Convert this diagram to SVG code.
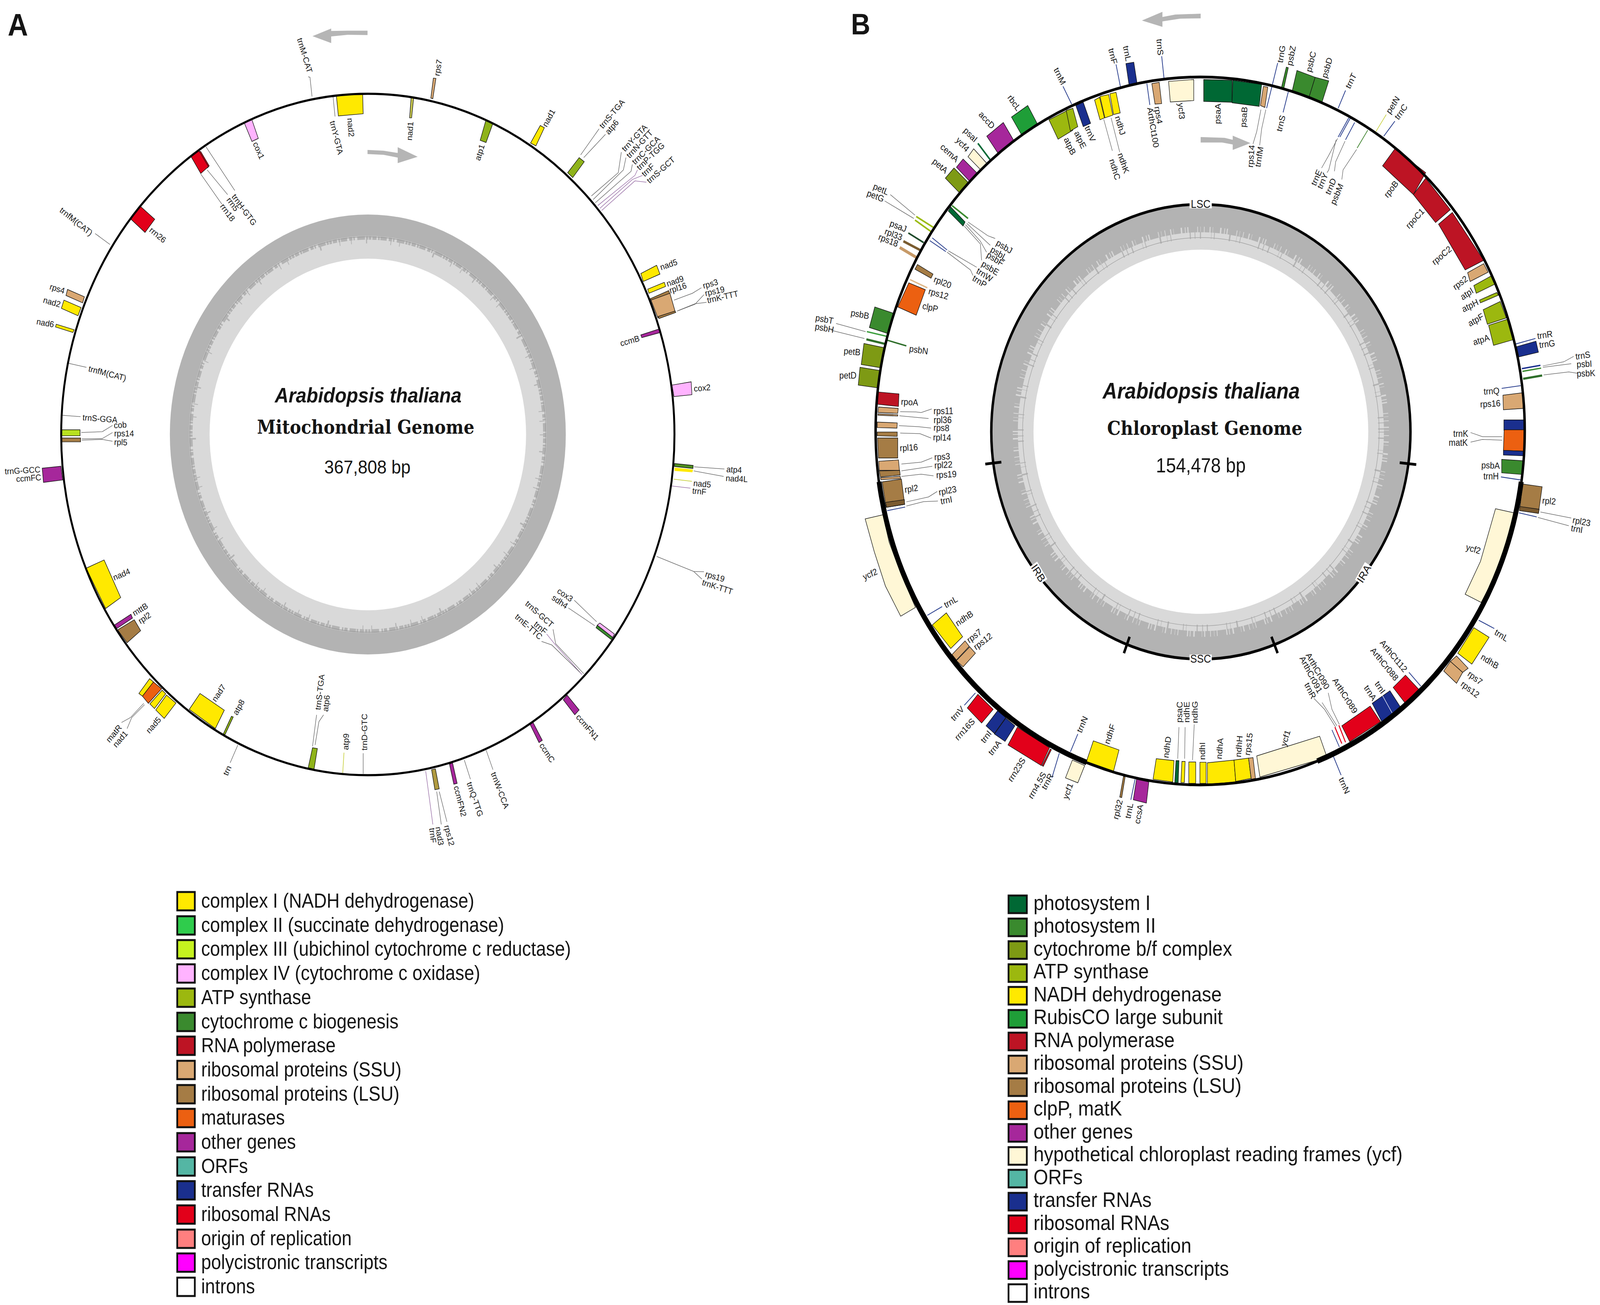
<svg xmlns="http://www.w3.org/2000/svg" width="4550" height="3340" viewBox="0 0 4550 3340" preserveAspectRatio="none">
<style>
svg{display:block;width:100vw;height:100vh}
text{font-family:"Liberation Sans",Arial,sans-serif;fill:#151515;text-anchor:middle;dominant-baseline:central}
.a text{font-size:31px}
.b text{font-size:33px}
#regions text{font-size:41px}
polygon{stroke:#111;stroke-width:2}
.c{fill:none;stroke:#555;stroke-width:1.8}
.cb{fill:none;stroke:#2a3f8e;stroke-width:3}
.cp{fill:none;stroke:#8a5a9a;stroke-width:1.8}
.cy{fill:none;stroke:#c8d040;stroke-width:2.5}
.cg{fill:none;stroke:#4a8a3a;stroke-width:3}
.y{fill:#ffe900}.pk{fill:#ffb3ff}.at{fill:#8fb31a}.tan{fill:#d9a873}.br{fill:#a57c45}.red{fill:#e2001a}.pu{fill:#a6279b}.or{fill:#ec6011}.tr{fill:#1a2f8e}.pol{fill:#bd1424}.ps1{fill:#006834}.ps2{fill:#3a8a2e}.bf{fill:#7e9a14}.ru{fill:#1f9e38}.yc{fill:#fff7d6}.gy{fill:#b8e01f}.aq{fill:#54b6a4}.lr{fill:#ff7f7f}.mg{fill:#f0f}.wh{fill:#fff}.lm{fill:#c5f21f}.sd{fill:#2fcc4c}.aa{fill:#9cb80f}
.ln{fill:none;stroke-width:6}
.sw{stroke:#111;stroke-width:5}
.lg text{text-anchor:start;dominant-baseline:auto}
.panel{font-family:"Liberation Sans",Arial,sans-serif;font-weight:700;text-anchor:start;dominant-baseline:auto}
.sp{font-family:"Liberation Sans",Arial,sans-serif;font-weight:700;font-style:italic;dominant-baseline:auto}
.ti{font-family:"DejaVu Serif",serif;font-weight:700;dominant-baseline:auto}
.bp{dominant-baseline:auto}
.arr{fill:#b5b5b5;stroke:none}
</style>
<rect width="4550" height="3340" fill="#fff"/>

<g id="rings">
<circle cx="1046" cy="1112" r="563" fill="#b3b3b3"/>
<circle cx="1046" cy="1112" r="508" fill="#d9d9d9"/>
<circle cx="1046" cy="1112" r="503" fill="none" stroke="#b3b3b3" stroke-width="9" stroke-dasharray="7 3 12 4 5 2 18 6 9 3 4 7 22 3 6 2"/>
<circle cx="1046" cy="1112" r="496" fill="none" stroke="#b3b3b3" stroke-width="14" stroke-dasharray="2 41 3 67 2 23 2 97 4 53 2 31"/>
<circle cx="1046" cy="1112" r="506" fill="none" stroke="#999" stroke-width="1.5"/>
<circle cx="1046" cy="1112" r="450" fill="#fff"/>
<ellipse cx="3415" cy="1105" rx="596" ry="582" fill="#b3b3b3"/>
<ellipse cx="3415" cy="1105" rx="535" ry="525" fill="#d9d9d9"/>
<ellipse cx="3415" cy="1105" rx="528" ry="518" fill="none" stroke="#b3b3b3" stroke-width="15" stroke-dasharray="9 2 14 3 6 1 20 4 8 2 5 3 25 2 7 1"/>
<ellipse cx="3415" cy="1105" rx="513" ry="503" fill="none" stroke="#b3b3b3" stroke-width="18" stroke-dasharray="2 13 3 29 1 7 2 41 4 17 1 9 2 53 3 11"/>
<ellipse cx="3415" cy="1105" rx="507" ry="497" fill="none" stroke="#a5a5a5" stroke-width="1.5"/>
<ellipse cx="3415" cy="1105" rx="476" ry="466" fill="#fff"/>
</g>

<g id="connectors">
<g transform="scale(.7273 .7015)">
<polyline class="c" points="1205,280 1212,282 1220,352"/><polyline class="c" points="1302,350 1310,425"/>
<polyline class="c" points="785,635 860,735 868,745"/><polyline class="c" points="810,620 890,710"/><polyline class="c" points="805,535 918,695"/>
<polyline class="c" points="372,852 430,892"/><polyline class="c" points="265,1325 338,1340"/><polyline class="c" points="243,1515 315,1520"/><polyline class="c" points="318,1578 400,1575 440,1552"/>
</g>
<g transform="translate(1140 0) scale(.7273 .7015)">
<polyline class="c" points="703,565 775,470"/><polyline class="c" points="715,575 800,490"/>
<polyline class="c" points="745,715 850,630 862,555"/><polyline class="c" points="752,728 870,620 880,575"/><polyline class="c" points="760,740 900,625 905,600"/><polyline class="cp" points="770,750 915,640 925,620"/><polyline class="cp" points="778,760 905,655 945,640"/><polyline class="cp" points="785,768 915,660 960,665"/>
<polyline class="c" points="1068,1095 1140,1070 1175,1050"/><polyline class="c" points="1080,1135 1150,1110 1185,1075"/><polyline class="c" points="1085,1133 1150,1108 1195,1103"/>
</g>
<g transform="translate(0 1100) scale(.7273 .7015)">
<polyline class="c" points="320,33 400,32 440,10"/><polyline class="c" points="320,38 400,35 440,42"/>
<polyline class="c" points="475,1068 510,1050 562,998"/><polyline class="c" points="497,1090 515,1050 565,1003"/>
<polyline class="c" points="930,1150 900,1215"/>
<polyline class="c" points="1238,1040 1235,1060 1222,1155"/><polyline class="c" points="1265,1040 1247,1065 1232,1150"/>
<polyline class="cy" points="1345,1178 1340,1252"/><polyline class="c" points="1420,1180 1420,1255"/>
</g>
<g transform="translate(1140 1100) scale(.7273 .7015)">
<polyline class="c" points="1147,135 1265,143"/><polyline class="c" points="1145,150 1262,170"/><polyline class="cy" points="1067,180 1138,188"/><polyline class="cp" points="1060,205 1132,213"/>
<polyline class="c" points="1000,462 1145,517 1185,518"/><polyline class="c" points="1145,517 1177,545"/>
<polyline class="c" points="678,622 765,700"/><polyline class="c" points="655,650 758,715"/>
<polyline class="c" points="595,728 605,780 715,890"/><polyline class="cp" points="570,745 600,780 708,893"/><polyline class="c" points="550,772 590,785 700,885"/>
<polyline class="c" points="333,1168 360,1240"/><polyline class="c" points="248,1205 272,1275"/>
<polyline class="c" points="150,1320 180,1430"/><polyline class="c" points="140,1320 158,1440"/><polyline class="cp" points="97,1245 125,1440"/>
</g>
<g transform="translate(2360 0) scale(.7015)">
<polyline class="c" points="245,710 345,785"/><polyline class="c" points="222,733 340,797"/>
<polyline class="c" points="560,810 640,860 670,870"/><polyline class="c" points="555,815 620,870 650,895"/><polyline class="c" points="550,820 610,880 635,920"/><polyline class="c" points="545,825 610,890 615,950"/>
<polyline class="cb" points="415,868 475,912"/><polyline class="c" points="480,915 595,975"/><polyline class="cb" points="405,878 470,918"/><polyline class="c" points="475,920 570,985 580,1005"/>
<polyline class="cb" points="945,315 980,380"/><polyline class="cb" points="1160,235 1178,318"/><polyline class="cb" points="1345,205 1355,290"/><polyline class="cb" points="1285,305 1297,383"/>
<polyline class="c" points="1110,435 1145,550"/><polyline class="c" points="1140,430 1175,555"/>
<polyline class="c" points="25,1180 145,1210"/><polyline class="c" points="5,1205 140,1235"/>
<polyline class="c" points="285,1502 350,1503 370,1505 413,1492"/><polyline class="c" points="282,1517 400,1527"/><polyline class="c" points="280,1553 360,1557 410,1562"/>
</g>
<g transform="translate(3430 0) scale(.7015)">
<polyline class="cb" points="290,230 245,395"/><polyline class="cb" points="312,410 333,335"/><polyline class="cb" points="535,395 565,330"/>
<polyline class="c" points="222,400 205,480 190,525"/><polyline class="c" points="242,400 225,470 217,530"/>
<polyline class="cy" points="688,480 730,418"/><polyline class="cb" points="720,497 765,442"/>
<polyline class="cb" points="535,500 578,430"/><polyline class="cb" points="542,500 585,430"/><polyline class="cb" points="565,510 602,447"/><polyline class="cg" points="612,540 655,475"/>
<polyline class="c" points="533,505 495,570 468,613"/><polyline class="c" points="527,510 497,620 490,630"/><polyline class="c" points="563,515 525,590 520,625"/><polyline class="c" points="610,545 555,620 550,655"/>
<polyline class="cb" points="1255,1255 1335,1235"/><polyline class="cb" points="1198,1417 1275,1407"/>
<polyline class="c" points="1365,1335 1450,1320 1490,1300"/><polyline class="c" points="1365,1340 1480,1327"/><polyline class="c" points="1368,1368 1470,1357 1505,1362"/>
</g>
<g transform="translate(2360 1100) scale(.7015)">
<polyline class="c" points="285,12 365,14 410,30"/><polyline class="c" points="290,125 370,118 415,102"/><polyline class="c" points="290,150 415,133"/><polyline class="c" points="290,170 370,162 420,168"/>
<polyline class="c" points="310,263 400,245 435,225"/><polyline class="cb" points="232,295 305,282"/><polyline class="c" points="310,278 380,262 438,260"/>
<polyline class="cb" points="395,677 455,645"/><polyline class="cb" points="545,1005 590,960"/><polyline class="cb" points="900,1270 930,1180"/><polyline class="cb" points="975,1175 1005,1110"/><polyline class="cb" points="1220,1350 1237,1275"/>
<polyline class="c" points="1410,1200 1415,1085"/><polyline class="c" points="1438,1200 1440,1085"/><polyline class="c" points="1470,1205 1477,1075"/>
</g>
<g transform="translate(3430 1100) scale(.7015)">
<polyline class="cb" points="515,1190 547,1260"/><polyline class="cb" points="510,1095 540,1157"/>
<polyline class="c" points="437,980 480,1020 525,1085"/><polyline class="c" points="470,995 530,1080"/><polyline class="c" points="495,960 510,1020 540,1075"/>
<polyline class="cb" points="822,885 870,935"/><polyline class="cb" points="1105,695 1168,725"/>
<polyline class="c" points="1355,300 1480,322"/><polyline class="cb" points="1268,303 1340,318"/><polyline class="c" points="1345,320 1470,350"/>
<polyline class="cb" points="1195,172 1275,183"/><polyline class="c" points="1072,10 1120,25 1200,25"/><polyline class="c" points="1072,45 1120,35 1200,38"/>
</g>
</g>

<g id="panel-a" class="a">
<g id="genes-a1" transform="scale(.7273 .7015)">
<polygon class="arr" points="1437,112 1437,128 1360,127 1295,133 1295,157 1222,132 1295,104 1295,113 1360,112"/>
<polygon class="arr" points="1437,547 1500,550 1555,558 1555,537 1633,572 1555,595 1555,575 1500,565 1437,562"/>
<g id="a-trnM-CAT"><text transform="translate(1192 202) rotate(72)">trnM-CAT</text></g>
<g id="a-trnY-GTA"><text transform="translate(1316 502) rotate(75)">trnY-GTA</text></g>
<g id="a-nad2"><polygon class="y" points="1315,347 1418,341 1420,415 1323,423"/><text transform="translate(1372 465) rotate(85)">nad2</text></g>
<g id="a-cox1"><polygon class="pk" points="955,448 985,437 1010,505 985,516"/><text transform="translate(1012 549) rotate(65)">cox1</text></g>
<g id="a-rrn18"><polygon class="red" points="778,552 785,553 818,605 812,612"/><polygon class="red" points="745,568 778,550 815,608 785,633"/><text transform="translate(890 775) rotate(52)">rrn18</text></g>
<g id="a-rrn5"><text transform="translate(910 745) rotate(52)">rrn5</text></g>
<g id="a-trnH-GTG"><text transform="translate(955 765) rotate(52)">trnH-GTG</text></g>
<g id="a-rrn26"><polygon class="red" points="510,798 548,752 605,800 567,848"/><text transform="translate(617 857) rotate(38)">rrn26</text></g>
<g id="a-trnfM1"><text transform="translate(298 808) rotate(37)">trnfM(CAT)</text></g>
<g id="a-rps4"><polygon class="tan" points="258,1078 264,1056 330,1083 323,1105"/><text transform="translate(224 1053) rotate(17)">rps4</text></g>
<g id="a-nad2b"><polygon class="y" points="240,1125 250,1095 317,1122 305,1152"/><text transform="translate(203 1102) rotate(15)">nad2</text></g>
<g id="a-nad6"><polygon class="y" points="217,1193 220,1183 290,1203 285,1213"/><text transform="translate(177 1178) rotate(10)">nad6</text></g>
<g id="a-trnfM2"><text transform="translate(420 1362) rotate(14)">trnfM(CAT)</text></g>
<g id="a-trnS-GGA"><text transform="translate(391 1527) rotate(4)">trnS-GGA</text></g>
<g id="a-cob"><polygon class="gy" points="242,1568 313,1568 313,1590 242,1590"/><text transform="translate(470 1550) rotate(-3)">cob</text></g>
</g>
<g id="genes-a2" transform="translate(1140 0) scale(.7273 .7015)">
<g id="a-nad1"><polygon fill="#c8c850" points="40,355 50,357 42,430 34,430"/><text transform="translate(35 478) rotate(-85)">nad1</text></g>
<g id="a-rps7"><polygon class="tan" points="117,358 127,285 137,286 125,360"/><text transform="translate(145 247) rotate(-80)">rps7</text></g>
<g id="a-atp1"><polygon class="at" points="310,512 332,440 360,450 333,520"/><text transform="translate(308 556) rotate(-72)">atp1</text></g>
<g id="a-nad1b"><polygon class="y" points="507,522 545,458 561,466 528,532"/><text transform="translate(578 430) rotate(-60)">nad1</text></g>
<g id="a-atp6"><polygon class="at" points="652,630 697,575 717,590 672,648"/><text transform="translate(825 415) rotate(-48)">trnS-TGA</text><text transform="translate(825 463) rotate(-48)">atp6</text></g>
<g id="a-cluster"><text transform="translate(913 503) rotate(-45)">trnY-GTA</text><text transform="translate(933 525) rotate(-45)">trnN-GTT</text><text transform="translate(958 548) rotate(-43)">trnC-GCA</text><text transform="translate(976 570) rotate(-42)">trnP-TGG</text><text transform="translate(966 620) rotate(-42)">trnF</text><text transform="translate(1016 620) rotate(-40)">trnS-GCT</text></g>
<g id="a-nad5"><polygon class="y" points="938,998 1000,968 1013,1000 948,1027"/><text transform="translate(1047 965) rotate(-18)">nad5</text></g>
<g id="a-nad9"><polygon class="y" points="965,1055 1030,1030 1035,1045 970,1070"/><text transform="translate(1072 1025) rotate(-18)">nad9</text></g>
<g id="a-rpl16"><polygon class="br" points="975,1090 1047,1060 1052,1072 982,1100"/><polygon class="tan" points="978,1095 1052,1070 1072,1135 1005,1160"/><polygon class="br" points="1005,1155 1072,1135 1075,1140 1010,1162"/><text transform="translate(1083 1050) rotate(-17)">rpl16</text></g>
<g id="a-rps3"><text transform="translate(1210 1035) rotate(-15)">rps3</text><text transform="translate(1227 1062) rotate(-12)">rps19</text><text transform="translate(1258 1083) rotate(-12)">trnK-TTT</text></g>
<g id="a-ccmB"><polygon class="pu" points="938,1222 1010,1200 1015,1213 942,1232"/><text transform="translate(895 1243) rotate(-15)">ccmB</text></g>
<g id="a-cox2"><polygon class="pk" points="1060,1405 1135,1393 1138,1440 1068,1447"/><text transform="translate(1178 1415) rotate(-5)">cox2</text></g>
</g>
<g id="genes-a3" transform="translate(0 1100) scale(.7273 .7015)">
<g id="a-rpl5"><polygon class="br" points="242,30 315,30 315,44 242,44"/><text transform="translate(485 13)">rps14</text><text transform="translate(472 45) rotate(2)">rpl5</text></g>
<g id="a-ccmFC"><polygon class="pu" points="165,140 238,133 245,183 170,192"/><text transform="translate(88 148) rotate(-3)">trnG-GCC</text><text transform="translate(112 176) rotate(-4)">ccmFC</text></g>
<g id="a-nad4"><polygon class="y" points="337,505 407,475 472,612 413,652"/><text transform="translate(475 527) rotate(-22)">nad4</text></g>
<g id="a-mttB"><polygon class="pu" points="448,712 512,673 518,687 457,725"/><text transform="translate(548 655) rotate(-30)">mttB</text></g>
<g id="a-rpl2"><polygon class="br" points="460,730 525,693 550,733 497,777"/><text transform="translate(565 686) rotate(-33)">rpl2</text></g>
<g id="a-nad5b"><polygon class="y" points="543,962 585,908 600,920 557,972"/><polygon class="or" points="557,972 600,920 632,945 580,998"/><polygon class="y" points="586,1000 634,950 648,963 604,1017"/><polygon class="y" points="609,1022 651,968 688,997 642,1053"/><text transform="translate(600 1077) rotate(-47)">nad5</text><text transform="translate(445 1108) rotate(-48)">matR</text><text transform="translate(470 1128) rotate(-48)">nad1</text></g>
<g id="a-nad7"><polygon class="y" points="740,1020 782,962 877,1023 842,1090"/><text transform="translate(855 960) rotate(-55)">nad7</text></g>
<g id="a-atp8"><polygon class="at" points="873,1110 905,1045 912,1048 880,1112"/><text transform="translate(933 1012) rotate(-60)">atp8</text></g>
<g id="a-trn"><text transform="translate(888 1243) rotate(-65)">trn</text></g>
<g id="a-atp6b"><polygon class="at" points="1205,1233 1222,1160 1241,1163 1228,1238"/><text transform="translate(1250 957) rotate(-83)">trnS-TGA</text><text transform="translate(1275 998) rotate(-83)">atp6</text></g>
<g id="a-atp9"><text transform="translate(1352 1138) rotate(-88)">atp9</text></g>
<g id="a-trnD"><text transform="translate(1425 1103) rotate(-90)">trnD-GTC</text></g>
</g>
<g id="genes-a4" transform="translate(1140 1100) scale(.7273 .7015)">
<g id="a-atp4"><polygon fill="#4f8f20" points="1070,123 1143,130 1142,141 1070,134"/><text transform="translate(1303 145) rotate(3)">atp4</text></g>
<g id="a-nad4L"><polygon class="y" style="stroke:none" points="1070,138 1142,145 1140,155 1070,150"/><text transform="translate(1313 178) rotate(3)">nad4L</text></g>
<g id="a-nad5c"><text transform="translate(1178 197) rotate(5)">nad5</text><text transform="translate(1167 224) rotate(5)">trnF</text></g>
<g id="a-rps19"><text transform="translate(1228 535) rotate(15)">rps19</text><text transform="translate(1238 573) rotate(17)">trnK-TTT</text></g>
<g id="a-cox3"><polygon class="ps2" points="763,722 768,713 828,757 822,765"/><polygon class="pk" points="768,713 778,705 835,745 828,757"/><text transform="translate(642 602) rotate(33)">cox3</text><text transform="translate(622 627) rotate(33)">sdh4</text></g>
<g id="a-cluster2"><text transform="translate(542 672) rotate(40)">trnS-GCT</text><text transform="translate(546 722) rotate(40)">trnF</text><text transform="translate(500 718) rotate(40)">trnE-TTC</text></g>
<g id="a-ccmFN1"><polygon class="pu" points="635,985 650,968 697,1022 680,1040"/><text transform="translate(730 1085) rotate(48)">ccmFN1</text></g>
<g id="a-ccmC"><polygon class="pu" points="505,1075 517,1068 553,1133 540,1141"/><text transform="translate(572 1178) rotate(55)">ccmC</text></g>
<g id="a-trnW"><text transform="translate(388 1315) rotate(68)">trnW-CCA</text></g>
<g id="a-trnQ"><text transform="translate(290 1348) rotate(70)">trnQ-TTG</text></g>
<g id="a-ccmFN2"><polygon class="pu" points="190,1220 202,1215 220,1290 207,1293"/><text transform="translate(232 1355) rotate(75)">ccmFN2</text></g>
<g id="a-nad3"><polygon fill="#b09a40" points="120,1240 135,1237 150,1310 133,1313"/><text transform="translate(190 1480) rotate(75)">rps12</text><text transform="translate(152 1482) rotate(80)">nad3</text><text transform="translate(125 1480) rotate(83)">trnF</text></g>
</g>
</g>

<g id="panel-b" class="b">
<g id="genes-b1" transform="translate(2360 0) scale(.7015)">
<polygon class="arr" points="1503,50 1400,53 1348,62 1348,43 1265,75 1348,98 1348,78 1420,68 1503,67"/>
<polygon class="arr" points="1503,500 1600,503 1633,510 1633,495 1705,522 1633,547 1633,527 1590,520 1503,520"/>
<g id="b-petA"><polygon class="bf" points="468,650 503,613 560,665 525,703"/><text transform="translate(447 605) rotate(38)">petA</text></g>
<g id="b-cemA"><polygon class="pu" points="513,610 540,580 595,630 565,660"/><text transform="translate(485 558) rotate(40)">cemA</text></g>
<g id="b-ycf4"><polygon class="yc" points="560,572 583,543 635,595 612,620"/><text transform="translate(538 527) rotate(45)">ycf4</text></g>
<g id="b-psaI"><path class="ln" stroke="#006834" d="M600,523L650,583"/><text transform="translate(570 492) rotate(42)">psaI</text></g>
<g id="b-accD"><polygon class="pu" points="636,497 703,447 747,515 680,557"/><text transform="translate(636 438) rotate(45)">accD</text></g>
<g id="b-rbcL"><polygon class="ru" points="736,427 802,385 840,450 777,492"/><text transform="translate(747 375) rotate(52)">rbcL</text></g>
<g id="b-atpB"><polygon class="aa" points="888,437 958,405 985,475 925,508"/><text transform="translate(973 533) rotate(63)">atpB</text></g>
<g id="b-atpE"><polygon class="aa" points="958,403 985,395 1005,462 975,478"/><text transform="translate(1015 510) rotate(63)">atpE</text></g>
<g id="b-trnV"><polygon class="tr" points="997,385 1027,373 1057,450 1027,462"/><text transform="translate(1055 488) rotate(65)">trnV</text></g>
<g id="b-trnM"><text transform="translate(932 278) rotate(62)">trnM</text></g>
<g id="b-trnF"><text transform="translate(1147 205) rotate(75)">trnF</text></g>
<g id="b-trnL"><polygon class="tr" points="1200,232 1232,227 1245,303 1213,312"/><text transform="translate(1205 195) rotate(78)">trnL</text></g>
<g id="b-trnS"><text transform="translate(1338 172) rotate(85)">trnS</text></g>
<g id="b-ndhJ"><polygon class="y" points="1073,365 1093,355 1113,430 1095,437"/><polygon class="y" points="1095,352 1130,345 1147,420 1115,430"/><polygon class="y" points="1135,342 1160,337 1177,412 1150,418"/><text transform="translate(1177 458) rotate(72)">ndhJ</text><text transform="translate(1190 595) rotate(70)">ndhK</text><text transform="translate(1155 618) rotate(72)">ndhC</text></g>
<g id="b-ArthCt100"><text transform="translate(1310 465) rotate(80)">ArthCt100</text></g>
<g id="b-rps4"><polygon class="tan" points="1305,305 1335,300 1345,378 1318,380"/><text transform="translate(1332 420) rotate(80)">rps4</text></g>
<g id="b-ycf3"><polygon class="yc" points="1373,297 1475,290 1475,367 1380,372"/><text transform="translate(1425 405) rotate(85)">ycf3</text></g>
<g id="b-pet"><path class="ln" stroke="#9bbb13" d="M350,790L420,830M345,803L410,845"/><text transform="translate(207 690) rotate(22)">petL</text><text transform="translate(185 715) rotate(20)">petG</text></g>
<g id="b-psb"><polygon class="ps1" points="480,770 490,755 548,810 540,825"/><path class="ln" stroke="#3a8a2e" d="M495,750L560,797"/><text transform="translate(707 900) rotate(30)">psbJ</text><text transform="translate(685 925) rotate(30)">psbL</text><text transform="translate(670 945) rotate(30)">psbF</text><text transform="translate(650 978) rotate(30)">psbE</text><text transform="translate(627 1003) rotate(30)">trnW</text><text transform="translate(607 1027) rotate(30)">trnP</text></g>
<g id="b-psaJ"><path class="ln" stroke="#1e4a2a" d="M318,850L380,885"/><text transform="translate(277 825) rotate(20)">psaJ</text></g>
<g id="b-rpl33"><path class="ln" stroke="#7a5c30" style="stroke-width:9" d="M298,880L365,912"/><text transform="translate(258 855) rotate(20)">rpl33</text></g>
<g id="b-rps18"><path class="ln" stroke="#c79a68" style="stroke-width:11" d="M283,903L352,940"/><text transform="translate(237 877) rotate(20)">rps18</text></g>
<g id="b-rpl20"><polygon class="br" points="345,982 355,965 418,1000 410,1015"/><text transform="translate(457 1030) rotate(20)">rpl20</text></g>
<g id="b-rps12"><path class="ln" stroke="#e0b888" style="stroke-width:5" d="M325,1020L395,1050"/><text transform="translate(440 1072) rotate(15)">rps12</text></g>
<g id="b-clpP"><polygon class="or" points="275,1120 320,1032 387,1057 350,1150"/><text transform="translate(407 1122) rotate(12)">clpP</text></g>
<g id="b-psbB"><polygon class="ps2" points="160,1195 182,1120 258,1143 235,1217"/><text transform="translate(122 1147) rotate(10)">psbB</text></g>
<g id="b-psbT"><path class="ln" stroke="#3fa040" style="stroke-width:5" d="M150,1210L235,1228"/><text transform="translate(-22 1165) rotate(10)">psbT</text></g>
<g id="b-psbH"><path class="ln" stroke="#2e6e2a" style="stroke-width:8" d="M148,1238L225,1255"/><text transform="translate(-22 1197) rotate(10)">psbH</text></g>
<g id="b-psbN"><path class="ln" stroke="#2e6e2a" style="stroke-width:5" d="M228,1240L310,1262"/><text transform="translate(360 1277) rotate(8)">psbN</text></g>
<g id="b-petB"><polygon class="bf" points="127,1330 138,1253 218,1268 208,1342"/><text transform="translate(90 1283) rotate(5)">petB</text></g>
<g id="b-petD"><polygon class="bf" points="115,1405 122,1340 203,1352 195,1415"/><text transform="translate(73 1370)">petD</text></g>
<g id="b-rpoA"><polygon class="pol" points="195,1430 280,1437 278,1483 193,1475"/><text transform="translate(323 1467) rotate(3)">rpoA</text></g>
<g id="b-rps11"><polygon class="tan" points="197,1485 277,1490 275,1508 195,1505"/><text transform="translate(460 1500)">rps11</text></g>
<g id="b-rpl36"><polygon class="tan" points="195,1510 275,1513 275,1518 195,1515"/><text transform="translate(457 1532)">rpl36</text></g>
<g id="b-rps8"><polygon class="tan" points="192,1540 273,1543 272,1562 192,1560"/><text transform="translate(452 1561) rotate(2)">rps8</text></g>
</g>
<g id="genes-b2" transform="translate(3430 0) scale(.7015)">
<g id="b-psaA"><polygon class="ps1" points="-10,290 105,293 105,373 -10,370"/><text transform="translate(47 415) rotate(-88)">psaA</text></g>
<g id="b-psaB"><polygon class="ps1" points="108,293 225,308 215,388 105,375"/><text transform="translate(153 427) rotate(-85)">psaB</text></g>
<g id="b-trnG"><text transform="translate(305 197) rotate(-80)">trnG</text></g>
<g id="b-psbZ"><polygon class="ps2" points="305,320 325,245 333,247 315,322"/><text transform="translate(345 203) rotate(-78)">psbZ</text></g>
<g id="b-rps14"><polygon class="tan" points="220,385 232,315 250,318 238,392"/><text transform="translate(182 570) rotate(-85)">rps14</text><text transform="translate(215 572) rotate(-80)">trnfM</text></g>
<g id="b-trnS2"><text transform="translate(303 450) rotate(-75)">trnS</text></g>
<g id="b-psbC"><polygon class="ps2" points="348,335 368,257 442,282 418,352"/><text transform="translate(425 225) rotate(-75)">psbC</text></g>
<g id="b-psbD"><polygon class="ps2" points="418,352 442,282 497,295 470,372"/><text transform="translate(490 247) rotate(-72)">psbD</text></g>
<g id="b-trnT"><text transform="translate(587 295) rotate(-62)">trnT</text></g>
<g id="b-petN"><text transform="translate(757 383) rotate(-55)">petN</text></g>
<g id="b-trnC"><text transform="translate(790 408) rotate(-52)">trnC</text></g>
<g id="b-trnE"><text transform="translate(447 648) rotate(-65)">trnE</text><text transform="translate(472 660) rotate(-65)">trnY</text><text transform="translate(505 680) rotate(-65)">trnD</text><text transform="translate(530 708) rotate(-65)">psbM</text></g>
<g id="b-rpoB"><polygon class="pol" points="715,605 765,543 890,630 840,710"/><text transform="translate(750 690) rotate(-50)">rpoB</text></g>
<g id="b-rpoC1"><polygon class="pol" points="840,710 890,650 990,765 930,812"/><text transform="translate(847 797) rotate(-45)">rpoC1</text></g>
<g id="b-rpoC2"><polygon class="pol" points="942,818 998,775 1125,950 1050,985"/><text transform="translate(955 932) rotate(-38)">rpoC2</text></g>
<g id="b-rps2"><polygon class="tan" points="1060,995 1125,962 1143,993 1070,1027"/><text transform="translate(1030 1032) rotate(-35)">rps2</text></g>
<g id="b-atpI"><polygon class="aa" points="1085,1042 1155,1007 1170,1037 1095,1070"/><text transform="translate(1057 1072) rotate(-32)">atpI</text></g>
<g id="b-atpH"><polygon class="aa" points="1108,1095 1178,1067 1185,1077 1112,1105"/><text transform="translate(1070 1115) rotate(-25)">atpH</text></g>
<g id="b-atpF"><polygon class="aa" points="1123,1130 1192,1100 1217,1160 1140,1183"/><text transform="translate(1093 1167) rotate(-28)">atpF</text></g>
<g id="b-atpA"><polygon class="aa" points="1145,1187 1220,1165 1243,1240 1165,1260"/><text transform="translate(1115 1240) rotate(-17)">atpA</text></g>
<g id="b-trnR"><text transform="translate(1373 1222) rotate(-8)">trnR</text></g>
<g id="b-trnG2"><polygon class="tr" points="1258,1265 1337,1245 1347,1285 1268,1302"/><text transform="translate(1382 1255) rotate(-7)">trnG</text></g>
<g id="b-trnS3"><path class="ln" stroke="#1a2f8e" style="stroke-width:5" d="M1280,1345L1355,1333"/><text transform="translate(1527 1297) rotate(-8)">trnS</text></g>
<g id="b-psbI"><path class="ln" stroke="#3a8a2e" style="stroke-width:5" d="M1282,1355L1358,1343"/><text transform="translate(1533 1328) rotate(-3)">psbI</text></g>
<g id="b-psbK"><path class="ln" stroke="#2e6e2a" style="stroke-width:8" d="M1285,1382L1362,1370"/><text transform="translate(1540 1362) rotate(-2)">psbK</text></g>
<g id="b-trnQ"><text transform="translate(1157 1427) rotate(-3)">trnQ</text></g>
<g id="b-rps16"><polygon class="tan" points="1203,1442 1282,1433 1285,1490 1205,1495"/><text transform="translate(1152 1473) rotate(-3)">rps16</text></g>
<g id="b-trnKtop"><polygon class="tr" points="1207,1532 1288,1532 1288,1570 1207,1570"/></g>
</g>
<g id="genes-b3" transform="translate(2360 1100) scale(.7015)">
<g id="b-rpl14"><polygon class="br" points="192,8 273,8 273,24 192,22"/><text transform="translate(455 28) rotate(1)">rpl14</text></g>
<g id="b-rpl16"><polygon class="br" points="193,30 275,30 275,103 197,103"/><text transform="translate(320 65) rotate(-3)">rpl16</text></g>
<g id="b-rps3"><polygon class="tan" points="198,115 278,110 282,148 200,148"/><text transform="translate(455 98) rotate(-3)">rps3</text></g>
<g id="b-rpl22"><polygon class="br" points="200,150 283,148 285,165 205,172"/><text transform="translate(460 128) rotate(-3)">rpl22</text></g>
<g id="b-rps19"><polygon class="tan" points="205,175 285,170 287,178 207,182"/><text transform="translate(472 163) rotate(-3)">rps19</text></g>
<g id="b-rpl2"><polygon class="br" points="212,190 290,180 303,272 228,283"/><polygon fill="#7a5a30" points="225,265 302,255 303,272 230,283"/><text transform="translate(330 215) rotate(-8)">rpl2</text></g>
<g id="b-rpl23"><text transform="translate(477 222) rotate(-10)">rpl23</text><text transform="translate(472 257) rotate(-10)">trnI</text></g>
<g id="b-ycf2"><polygon class="yc" points="143,325 180,445 225,570 287,680 347,648 290,530 240,410 215,310"/><text transform="translate(163 527) rotate(-22)">ycf2</text></g>
<g id="b-trnLb"><text transform="translate(490 628) rotate(-28)">trnL</text></g>
<g id="b-ndhB"><polygon class="y" points="415,712 472,668 538,755 490,798"/><text transform="translate(545 688) rotate(-32)">ndhB</text></g>
<g id="b-rps7"><polygon class="tan" points="495,820 548,770 565,790 513,840"/><polygon class="tan" points="513,842 567,792 590,815 540,865"/><text transform="translate(585 752) rotate(-35)">rps7</text><text transform="translate(620 772) rotate(-35)">rps12</text></g>
<g id="b-trnVb"><text transform="translate(517 1035) rotate(-45)">trnV</text></g>
<g id="b-rrn16S"><polygon class="red" points="557,1015 600,965 662,1020 615,1070"/><text transform="translate(547 1093) rotate(-45)">rrn16S</text></g>
<g id="b-trnIb"><polygon class="tr" points="633,1080 680,1025 713,1050 667,1108"/><text transform="translate(633 1120) rotate(-50)">trnI</text></g>
<g id="b-trnAb"><polygon class="tr" points="667,1110 713,1052 750,1080 710,1137"/><text transform="translate(668 1160) rotate(-50)">trnA</text></g>
<g id="b-rrn23S"><polygon class="red" points="722,1150 760,1085 890,1160 857,1225"/><text transform="translate(757 1240) rotate(-55)">rrn23S</text></g>
<g id="b-rrn45S"><polygon class="red" points="860,1225 893,1165 898,1167 865,1228"/><text transform="translate(840 1297) rotate(-58)">rrn4.5S</text></g>
<g id="b-trnRb"><text transform="translate(882 1283) rotate(-60)">trnR</text></g>
<g id="b-trnN"><text transform="translate(1023 1075) rotate(-65)">trnN</text></g>
<g id="b-ycf1s"><polygon class="yc" points="955,1270 983,1205 1033,1225 1005,1288"/><text transform="translate(965 1318) rotate(-68)">ycf1</text></g>
<g id="b-ndhF"><polygon class="y" points="1040,1210 1068,1135 1172,1168 1150,1245"/><text transform="translate(1135 1110) rotate(-70)">ndhF</text></g>
<g id="b-rpl32"><polygon class="br" points="1175,1340 1190,1265 1197,1266 1183,1342"/><text transform="translate(1167 1385) rotate(-75)">rpl32</text></g>
<g id="b-trnLc"><text transform="translate(1213 1390) rotate(-78)">trnL</text></g>
<g id="b-ccsA"><polygon class="pu" points="1230,1350 1243,1275 1293,1285 1283,1362"/><text transform="translate(1252 1402) rotate(-78)">ccsA</text></g>
<g id="b-ndhD"><polygon class="y" points="1310,1275 1323,1200 1395,1207 1390,1285"/><text transform="translate(1367 1158) rotate(-82)">ndhD</text></g>
<g id="b-psaC"><polygon class="ps1" points="1398,1288 1403,1207 1415,1207 1412,1287"/><text transform="translate(1417 1030) rotate(-88)">psaC</text></g>
<g id="b-ndhE"><polygon class="y" points="1423,1287 1427,1210 1440,1210 1437,1287"/><text transform="translate(1447 1030) rotate(-90)">ndhE</text></g>
<g id="b-ndhG"><polygon class="y" points="1455,1290 1455,1212 1483,1212 1483,1290"/><text transform="translate(1480 1030) rotate(-90)">ndhG</text></g>
<g id="b-ndhI"><polygon class="y" points="1500,1290 1500,1213 1525,1213 1525,1290"/><text transform="translate(1510 1172) rotate(-90)">ndhI</text></g>
</g>
<g id="genes-b4" transform="translate(3430 1100) scale(.7015)">
<g id="b-ndhA"><polygon class="y" points="5,1215 113,1205 120,1285 5,1293"/><text transform="translate(55 1163) rotate(-85)">ndhA</text></g>
<g id="b-ndhH"><polygon class="y" points="113,1205 172,1198 182,1272 120,1283"/><text transform="translate(133 1155) rotate(-85)">ndhH</text></g>
<g id="b-rps15"><polygon class="tan" points="172,1198 190,1196 200,1272 183,1275"/><text transform="translate(172 1147) rotate(-82)">rps15</text></g>
<g id="b-ycf1"><polygon class="yc" points="205,1190 460,1118 490,1195 218,1267"/><text transform="translate(322 1125) rotate(-72)">ycf1</text></g>
<g id="b-trnNb"><text transform="translate(560 1298) rotate(65)">trnN</text></g>
<g id="b-arth"><text transform="translate(422 952) rotate(62)">trnR</text><text transform="translate(425 893) rotate(60)">ArthCr091</text><text transform="translate(452 880) rotate(58)">ArthCr090</text><text transform="translate(563 970) rotate(55)">ArthCr089</text><path class="ln" stroke="#e2001a" style="stroke-width:4" d="M522,1085L550,1145M538,1078L565,1140"/></g>
<g id="b-rrn23Sb"><polygon class="red" points="550,1080 665,1008 707,1065 582,1138"/></g>
<g id="b-trnAc"><polygon class="tr" points="673,998 745,952 790,1015 712,1065"/><path fill="none" stroke="#fff" stroke-width="2" d="M715,970L755,1035"/><text transform="translate(665 960) rotate(55)">trnA</text><text transform="translate(705 940) rotate(55)">trnI</text></g>
<g id="b-rrn16Sb"><polygon class="red" points="758,940 808,895 865,950 805,995"/><text transform="translate(723 855) rotate(48)">ArthCr088</text><text transform="translate(760 825) rotate(48)">ArthCt112</text></g>
<g id="b-rps12c"><polygon class="tan" points="963,880 990,845 1040,885 1015,925"/><polygon class="tan" points="990,845 1015,825 1062,870 1040,885"/><text transform="translate(1090 905) rotate(35)">rps7</text><text transform="translate(1070 947) rotate(35)">rps12</text></g>
<g id="b-ndhBb"><polygon class="y" points="1020,815 1085,722 1147,757 1077,855"/><text transform="translate(1150 845) rotate(30)">ndhB</text></g>
<g id="b-trnLd"><text transform="translate(1197 750) rotate(30)">trnL</text></g>
<g id="b-ycf2b"><polygon class="yc" points="1050,600 1112,480 1173,288 1248,303 1190,500 1115,630"/><text transform="translate(1083 435) rotate(15)">ycf2</text></g>
<g id="b-rpl23b"><text transform="translate(1522 335) rotate(10)">rpl23</text><text transform="translate(1503 362) rotate(10)">trnI</text></g>
<g id="b-rpl2b"><polygon class="br" points="1272,285 1283,198 1362,208 1347,305"/><polygon fill="#7a5a30" points="1272,280 1350,290 1347,305 1270,295"/><text transform="translate(1390 260) rotate(5)">rpl2</text></g>
<g id="b-psbA"><polygon class="ps2" points="1198,108 1283,113 1280,163 1198,157"/><text transform="translate(1153 130) rotate(2)">psbA</text></g>
<g id="b-trnH"><text transform="translate(1155 170)">trnH</text></g>
<g id="b-matK"><polygon class="or" points="1208,0 1290,0 1288,78 1205,75"/><polygon class="tr" points="1205,75 1288,78 1285,95 1205,92"/><text transform="translate(1032 15)">trnK</text><text transform="translate(1022 47)">matK</text></g>
</g>
</g>

<g id="circles" fill="none" stroke="#000">
<circle cx="1046" cy="1112" r="872" stroke-width="5.5"/>
<ellipse cx="3413" cy="1103" rx="923" ry="906" stroke-width="7"/>
<path stroke-width="14" d="M2500,1233A923,906 0 0 0 3090,1951.5M3746,1948A923,906 0 0 0 4326,1233"/>
<ellipse cx="3415" cy="1105" rx="596" ry="582" stroke-width="7"/>
</g>
<g id="regions" transform="translate(2360 1100) scale(.7015)">
<g fill="none" stroke="#000" stroke-width="10"><path d="M630,125L695,118M1215,755L1192,815M2310,120L2377,127M1790,755L1815,815"/></g>
<g fill="#fff"><rect x="1458" y="-840" width="90" height="32"/><rect x="1458" y="820" width="90" height="32"/><rect x="-38" y="-19" width="76" height="38" transform="translate(845 523) rotate(57)"/><rect x="-38" y="-19" width="76" height="38" transform="translate(2165 525) rotate(-58)"/></g>
<text transform="translate(1503 -824)">LSC</text><text transform="translate(1503 836)">SSC</text><text transform="translate(845 523) rotate(57)">IRB</text><text transform="translate(2165 525) rotate(-58)">IRA</text>
</g>

<g id="titles">
<text class="panel" x="22" y="91" font-size="80">A</text>
<text class="panel" x="2420" y="88" font-size="76">B</text>
<text class="sp" x="1047" y="1030" font-size="54">Arabidopsis thaliana</text>
<text class="ti" x="1040" y="1110" font-size="48" textLength="618" lengthAdjust="spacingAndGlyphs">Mitochondrial Genome</text>
<text class="bp" x="1045" y="1212" font-size="49">367,808 bp</text>
<text class="sp" x="3416" y="1020" font-size="57">Arabidopsis thaliana</text>
<text class="ti" x="3426" y="1113" font-size="48" textLength="555" lengthAdjust="spacingAndGlyphs">Chloroplast Genome</text>
<text class="bp" x="3415" y="1209" font-size="51">154,478 bp</text>
</g>

<g id="legend-a" class="lg">
<rect class="sw y" x="504" y="2283" width="50" height="47"/><text x="572" y="2323" font-size="51">complex I (NADH dehydrogenase)</text>
<rect class="sw sd" x="504" y="2345" width="50" height="47"/><text x="572" y="2385" font-size="51">complex II (succinate dehydrogenase)</text>
<rect class="sw lm" x="504" y="2406" width="50" height="47"/><text x="572" y="2446" font-size="51">complex III (ubichinol cytochrome c reductase)</text>
<rect class="sw pk" x="504" y="2468" width="50" height="47"/><text x="572" y="2508" font-size="51">complex IV (cytochrome c oxidase)</text>
<rect class="sw aa" x="504" y="2530" width="50" height="47"/><text x="572" y="2570" font-size="51">ATP synthase</text>
<rect class="sw ps2" x="504" y="2592" width="50" height="47"/><text x="572" y="2632" font-size="51">cytochrome c biogenesis</text>
<rect class="sw pol" x="504" y="2653" width="50" height="47"/><text x="572" y="2693" font-size="51">RNA polymerase</text>
<rect class="sw tan" x="504" y="2715" width="50" height="47"/><text x="572" y="2755" font-size="51">ribosomal proteins (SSU)</text>
<rect class="sw br" x="504" y="2777" width="50" height="47"/><text x="572" y="2817" font-size="51">ribosomal proteins (LSU)</text>
<rect class="sw or" x="504" y="2838" width="50" height="47"/><text x="572" y="2878" font-size="51">maturases</text>
<rect class="sw pu" x="504" y="2900" width="50" height="47"/><text x="572" y="2940" font-size="51">other genes</text>
<rect class="sw aq" x="504" y="2962" width="50" height="47"/><text x="572" y="3002" font-size="51">ORFs</text>
<rect class="sw tr" x="504" y="3023" width="50" height="47"/><text x="572" y="3063" font-size="51">transfer RNAs</text>
<rect class="sw red" x="504" y="3085" width="50" height="47"/><text x="572" y="3125" font-size="51">ribosomal RNAs</text>
<rect class="sw lr" x="504" y="3147" width="50" height="47"/><text x="572" y="3187" font-size="51">origin of replication</text>
<rect class="sw mg" x="504" y="3208" width="50" height="47"/><text x="572" y="3248" font-size="51">polycistronic transcripts</text>
<rect class="sw wh" x="504" y="3270" width="50" height="47"/><text x="572" y="3310" font-size="51">introns</text>
</g>
<g id="legend-b" class="lg">
<rect class="sw ps1" x="2868" y="2292" width="52" height="45"/><text x="2939" y="2329" font-size="53.5">photosystem I</text>
<rect class="sw ps2" x="2868" y="2351" width="52" height="45"/><text x="2939" y="2387" font-size="53.5">photosystem II</text>
<rect class="sw bf" x="2868" y="2409" width="52" height="45"/><text x="2939" y="2446" font-size="53.5">cytochrome b/f complex</text>
<rect class="sw aa" x="2868" y="2468" width="52" height="45"/><text x="2939" y="2504" font-size="53.5">ATP synthase</text>
<rect class="sw y" x="2868" y="2526" width="52" height="45"/><text x="2939" y="2563" font-size="53.5">NADH dehydrogenase</text>
<rect class="sw ru" x="2868" y="2585" width="52" height="45"/><text x="2939" y="2621" font-size="53.5">RubisCO large subunit</text>
<rect class="sw pol" x="2868" y="2643" width="52" height="45"/><text x="2939" y="2680" font-size="53.5">RNA polymerase</text>
<rect class="sw tan" x="2868" y="2702" width="52" height="45"/><text x="2939" y="2738" font-size="53.5">ribosomal proteins (SSU)</text>
<rect class="sw br" x="2868" y="2760" width="52" height="45"/><text x="2939" y="2797" font-size="53.5">ribosomal proteins (LSU)</text>
<rect class="sw or" x="2868" y="2819" width="52" height="45"/><text x="2939" y="2855" font-size="53.5">clpP, matK</text>
<rect class="sw pu" x="2868" y="2877" width="52" height="45"/><text x="2939" y="2914" font-size="53.5">other genes</text>
<rect class="sw yc" x="2868" y="2936" width="52" height="45"/><text x="2939" y="2972" font-size="53.5">hypothetical chloroplast reading frames (ycf)</text>
<rect class="sw aq" x="2868" y="2994" width="52" height="45"/><text x="2939" y="3031" font-size="53.5">ORFs</text>
<rect class="sw tr" x="2868" y="3053" width="52" height="45"/><text x="2939" y="3089" font-size="53.5">transfer RNAs</text>
<rect class="sw red" x="2868" y="3111" width="52" height="45"/><text x="2939" y="3148" font-size="53.5">ribosomal RNAs</text>
<rect class="sw lr" x="2868" y="3170" width="52" height="45"/><text x="2939" y="3206" font-size="53.5">origin of replication</text>
<rect class="sw mg" x="2868" y="3228" width="52" height="45"/><text x="2939" y="3265" font-size="53.5">polycistronic transcripts</text>
<rect class="sw wh" x="2868" y="3287" width="52" height="45"/><text x="2939" y="3323" font-size="53.5">introns</text>
</g>
</svg>
